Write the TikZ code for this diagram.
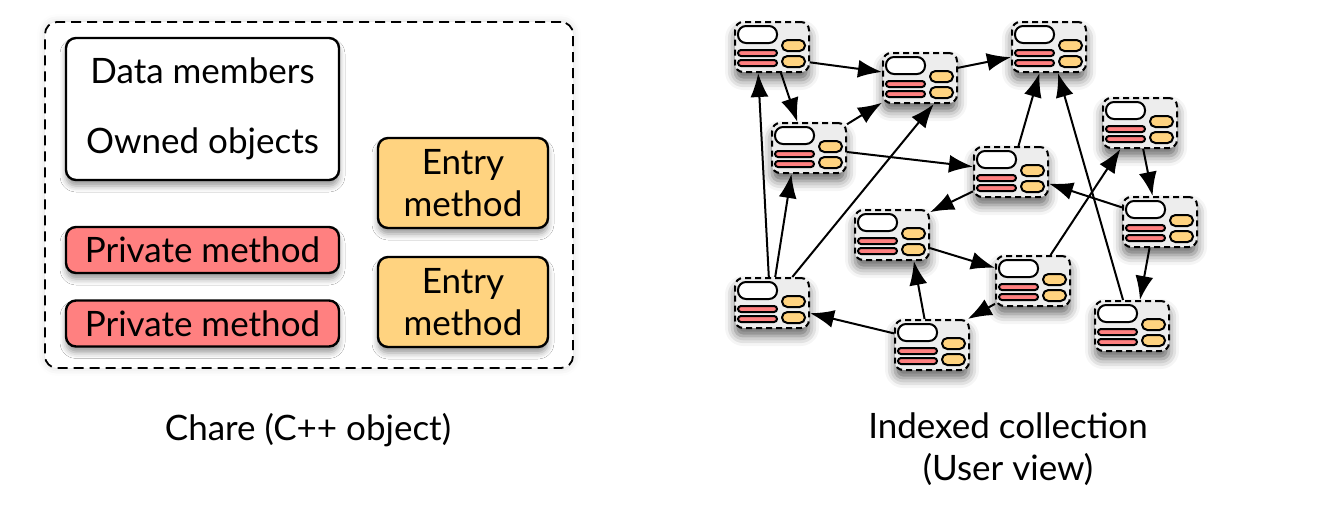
\documentclass[tikz,border=0pt]{standalone}
\usepackage{fontspec}
\setmainfont{Lato}
\usetikzlibrary{arrows.meta,shadows.blur}

\definecolor{privred}{RGB}{255,128,128}
\definecolor{entryorange}{RGB}{255,211,128}

\begin{document}
\begin{tikzpicture}[x=0.5pt,y=-0.5pt,
    every node/.style={font=\fontsize{17.5}{20}\selectfont},
    softshadow/.style={blur shadow={shadow xshift=0pt, shadow yshift=-3pt, shadow blur radius=3pt, shadow opacity=40}},
    member/.style={draw, line width=1.2pt, rounded corners=5pt, inner sep=0pt, align=center, softshadow},
    bigbox/.style={draw, dash pattern=on 5pt off 3pt, line width=0.9pt, rounded corners=6pt,
        minimum width=264pt, minimum height=173pt, fill=white,
        blur shadow={shadow xshift=0pt, shadow yshift=0pt, shadow blur radius=4pt, shadow opacity=15}},
    chbox/.style={draw, dash pattern=on 3pt off 2pt, line width=1pt, rounded corners=4pt,
        fill=gray!14, minimum width=37pt, minimum height=25pt, inner sep=0pt,
        blur shadow={shadow xshift=0pt, shadow yshift=-4pt, shadow blur radius=5pt, shadow opacity=60}},
    pill/.style={line width=1pt},
    arr/.style={-{Latex[length=12pt,width=9pt]}, line width=1pt}]
    \useasboundingbox (0,0) rectangle (1317,520);

    % Chare
    \node[bigbox] (chare) at (309,195) {};
    \node[member, fill=white, minimum width=136.5pt, minimum height=71pt] (data) at (202.5,109)
        {Data members\\[15pt]Owned objects};
    \node[member, fill=privred, minimum width=136.5pt, minimum height=23pt] (priv1) at (202.5,250) {Private method};
    \node[member, fill=privred, minimum width=136.5pt, minimum height=23pt] (priv2) at (202.5,323.5) {Private method};
    \node[member, fill=entryorange, minimum width=85pt, minimum height=45pt] (entry1) at (463,183) {Entry\\[1pt]method};
    \node[member, fill=entryorange, minimum width=85pt, minimum height=45pt] (entry2) at (463,302) {Entry\\[1pt]method};
    \node (charelabel) at (308,430) {Chare (C++ object)};

    % Indexed collection
    \foreach \nm/\x/\y in {ca/735/22, cb/883/53, cc/1012/22, cd/772/123, ce/974/147, cf/1103/98,
                           cg/855/210, ch/1123/197, ci/996/256, cj/735/278, ck/895/320, cl/1095/301} {
        \node[chbox] (\nm) at (\x+37,\y+25) {};
        \begin{scope}[shift={(\x,\y)}]
            \draw[pill, fill=white, rounded corners=4pt] (3,4) rectangle (42,21);
            \draw[pill, fill=privred, rounded corners=1.5pt] (3,28) rectangle (42,34);
            \draw[pill, fill=privred, rounded corners=1.5pt] (3,38) rectangle (42,44);
            \draw[pill, fill=entryorange, rounded corners=2.7pt] (47,18) rectangle (70,29);
            \draw[pill, fill=entryorange, rounded corners=2.7pt] (47,34) rectangle (70,45);
        \end{scope}
    }
    \foreach \a/\b in {ca.-22/cb.171, ca.-71/cd.114, cd.32/cb.-147, cb.15/cc.-165, cd.-6/ce.172,
                       cj.97/ca.-118, cj.83/cd.-124, cj.52/cb.-62, ce.74/cc.-110, cl.109/cc.-71,
                       ce.-153/cg.31, ch.159/ce.-17, cf.-83/ch.106, ci.56/cf.-127, cg.-19/ci.161,
                       ck.106/cg.-50, ci.-149/ck.36, ck.163/cj.-15, ch.-112/cl.73}
        \draw[arr] (\a) -- (\b);
    \node[align=center] (collabel) at (1008,449) {Indexed collection\\[1pt](User view)};
\end{tikzpicture}
\end{document}
